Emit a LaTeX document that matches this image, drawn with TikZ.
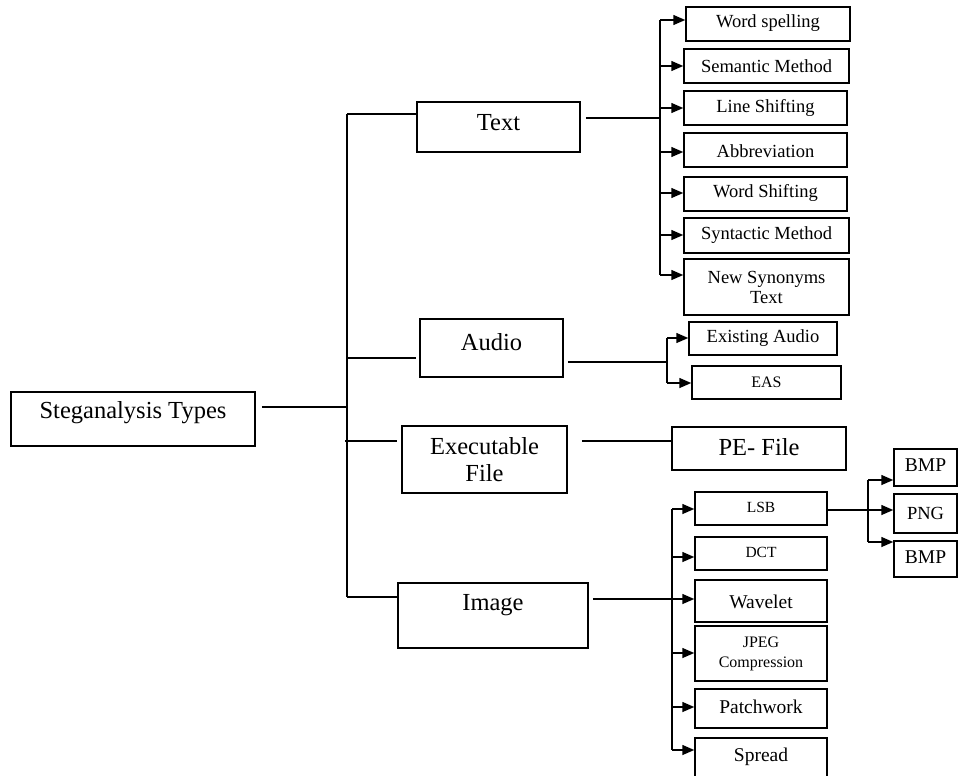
\documentclass[tikz,border=0pt]{standalone}
\usepackage{fontspec}
\setmainfont{Liberation Serif}
\usetikzlibrary{fit,arrows.meta,calc}
\tikzset{
  box/.style={draw, line width=1.5pt, inner sep=0pt, rectangle},
  conn/.style={line width=1.5pt},
  arr/.style={line width=1.5pt, -{Triangle[length=12pt,width=10pt]}},
  fbig/.style={font=\fontsize{24.5}{27}\selectfont},
  fmid/.style={font=\fontsize{18.5}{20}\selectfont},
  fsml/.style={font=\fontsize{15.5}{20}\selectfont},
  fjp/.style={font=\fontsize{16}{20}\selectfont},
  fwv/.style={font=\fontsize{19.5}{22}\selectfont},
}
\newcommand{\mkbox}[7]{%
  \node[box, fit={(#2,#3) (#4,#5)}, label={[align=center,#6]center:{#7}}] (#1) {};}
\begin{document}
\begin{tikzpicture}[x=1pt,y=-1pt]
\useasboundingbox (0,0) rectangle (958,776);
\fill[white] (0,0) rectangle (958,776);
\clip (0,0) rectangle (958,776);
% boxes
\mkbox{st}{11}{392}{255}{446}{fbig,yshift=6pt}{Steganalysis Types}
\mkbox{tx}{417}{102}{580}{152}{fbig,yshift=4pt}{Text}
\mkbox{au}{420}{319}{563}{377}{fbig,yshift=6pt}{Audio}
\mkbox{ex}{402}{426}{567}{493}{fbig,yshift=0pt}{Executable\\File}
\mkbox{im}{398}{583}{588}{648}{fbig,yshift=10pt}{Image}
\mkbox{pe}{672}{427}{846}{470}{fbig,yshift=1pt}{PE- File}
\mkbox{ws}{686}{7}{850}{41}{fmid,yshift=1pt}{Word spelling}
\mkbox{sm}{684}{49}{849}{83}{fmid}{Semantic Method}
\mkbox{ls}{684}{91}{847}{125}{fmid}{Line Shifting}
\mkbox{ab}{684}{133}{847}{167}{fmid,yshift=-1pt}{Abbreviation}
\mkbox{wsh}{684}{177}{847}{211}{fmid,yshift=1pt}{Word Shifting}
\mkbox{sy}{684}{218}{849}{253}{fmid}{Syntactic Method}
\mkbox{ns}{684}{259}{849}{315}{fmid}{New Synonyms\\Text}
\mkbox{ea}{689}{322}{837}{355}{fmid}{Existing Audio}
\mkbox{eas}{692}{366}{841}{399}{fjp}{EAS}
\mkbox{lsb}{695}{492}{827}{525}{fsml,yshift=1.5pt}{LSB}
\mkbox{dct}{695}{537}{827}{570}{fsml,yshift=1.5pt}{DCT}
\mkbox{wav}{695}{580}{827}{622}{fwv,yshift=-1pt}{Wavelet}
\mkbox{jp}{695}{626}{827}{681}{fjp}{JPEG\\Compression}
\mkbox{pw}{695}{689}{827}{728}{fwv,yshift=1.5pt}{Patchwork}
\mkbox{sp}{695}{738}{827}{790}{fwv,yshift=7pt}{Spread}
\mkbox{bA}{894}{449}{957}{486}{fwv,yshift=2.5pt}{BMP}
\mkbox{png}{894}{494}{957}{533}{fmid,yshift=0.5pt}{PNG}
\mkbox{bB}{894}{541}{957}{577}{fwv,yshift=2pt}{BMP}
% junction coordinates
\coordinate (mt1) at (347,114);
\coordinate (mt2) at (347,597);
\coordinate (tt1) at (660,20);
\coordinate (tt2) at (660,275);
\coordinate (at1) at (667,338);
\coordinate (at2) at (667,383);
\coordinate (it1) at (672,509);
\coordinate (it2) at (672,750);
\coordinate (bt1) at (868,480);
\coordinate (bt2) at (868,542);
% main tree
\draw[conn] ($(st.east)+(6,-12)$) -- (mt1 |- 0,407);
\draw[conn] (mt1) -- (mt2);
\draw[conn] (mt1) -- (tx.west |- mt1);
\draw[conn] (mt1 |- 0,358) -- ($(au.west |- 0,358)+(-3,0)$);
\draw[conn] ($(mt1 |- 0,441)+(-2,0)$) -- ($(ex.west |- 0,441)+(-4,0)$);
\draw[conn] (mt2) -- (im.west |- mt2);
% text branch
\draw[conn] ($(tx.east)+(5,-9)$) -- (tt1 |- 0,118);
\draw[conn] (tt1) -- (tt2);
\draw[arr] (tt1) -- (ws.west |- tt1);
\draw[arr] (tt1 |- 0,66) -- (sm.west |- 0,66);
\draw[arr] (tt1 |- 0,108) -- (ls.west |- 0,108);
\draw[arr] (tt1 |- 0,152) -- (ab.west |- 0,152);
\draw[arr] (tt1 |- 0,193) -- (wsh.west |- 0,193);
\draw[arr] (tt1 |- 0,235) -- (sy.west |- 0,235);
\draw[arr] (tt2) -- (ns.west |- tt2);
% audio branch
\draw[conn] ($(au.east)+(4,14)$) -- (at1 |- 0,362);
\draw[conn] (at1) -- (at2);
\draw[arr] (at1) -- (ea.west |- at1);
\draw[arr] (at2) -- (eas.west |- at2);
% executable branch
\draw[conn] ($(ex.east)+(14,-18.5)$) -- (pe.west |- 0,441);
% image branch
\draw[arr] ($(im.east)+(4,-16.5)$) -- (wav.west |- 0,599);
\draw[conn] (it1) -- (it2);
\draw[arr] (it1) -- (lsb.west |- it1);
\draw[arr] (it1 |- 0,557) -- (dct.west |- 0,557);
\draw[arr] (it1 |- 0,653) -- (jp.west |- 0,653);
\draw[arr] (it1 |- 0,707) -- (pw.west |- 0,707);
\draw[arr] (it2) -- (sp.west |- it2);
% LSB branch
\draw[conn] (lsb.east |- 0,510) -- (bt1 |- 0,510);
\draw[conn] (bt1) -- (bt2);
\draw[arr] (bt1) -- (bA.west |- bt1);
\draw[arr] (bt1 |- 0,510) -- (png.west |- 0,510);
\draw[arr] (bt2) -- (bB.west |- bt2);
\end{tikzpicture}
\end{document}
